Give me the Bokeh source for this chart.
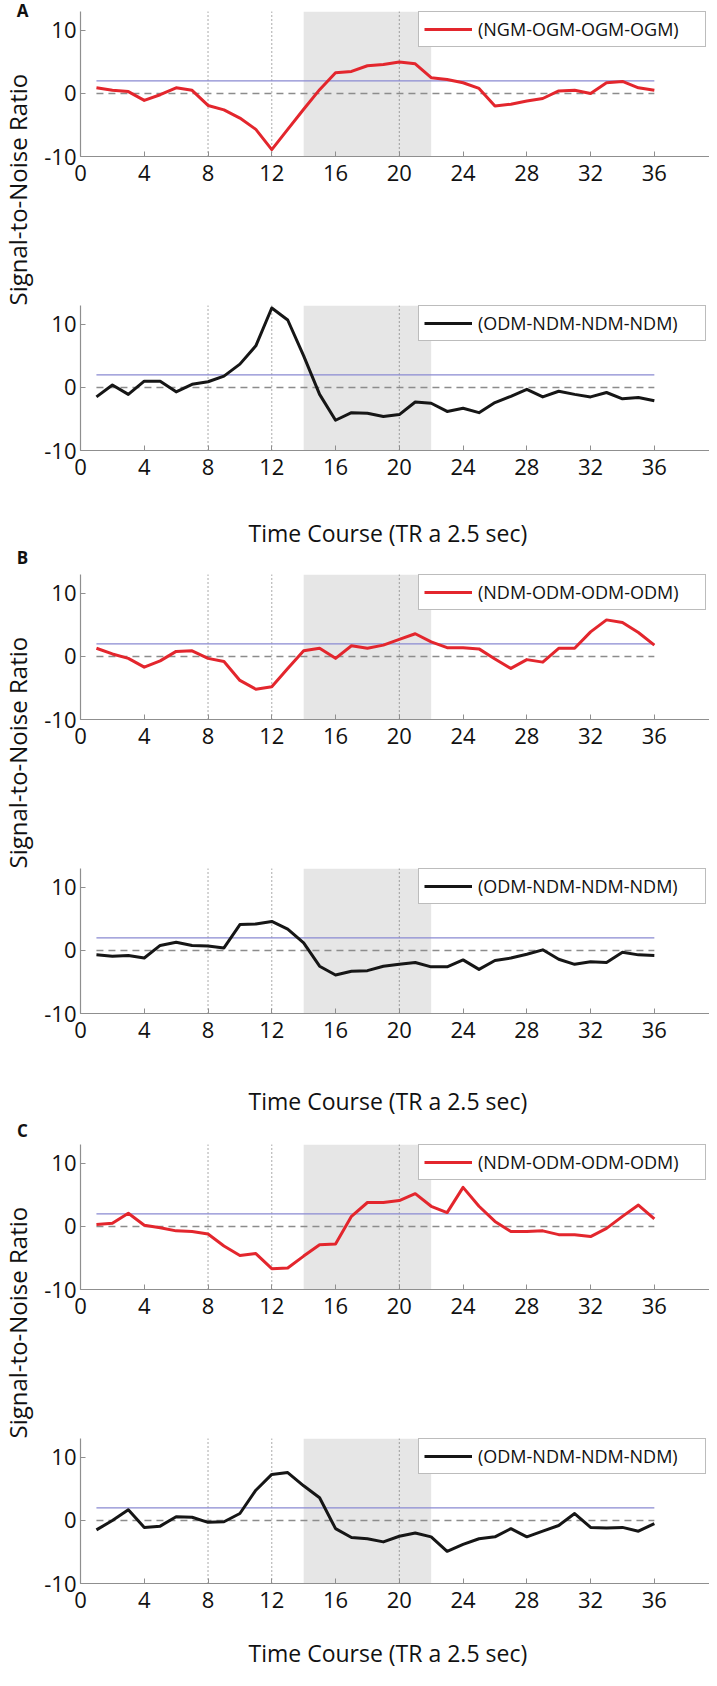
import math
from bokeh.plotting import figure
from bokeh.models import (Range1d, FixedTicker, BoxAnnotation, Span, Label,
                          Legend, LegendItem)
from bokeh.layouts import column, row
from bokeh.embed import file_html
from bokeh.resources import INLINE

# ---------------- data ----------------
time_points = list(range(1, 37))
x_ticks = [0, 4, 8, 12, 16, 20, 24, 28, 32, 36]
y_ticks = [-10, 0, 10]
y_tick_text = {-10: "-10", 0: "0", 10: "10"}
event_markers = [8, 12, 20]
stim_window = [14, 22]
threshold = 2
baseline = 0

a_top = [0.9, 0.5, 0.3, -1.1, -0.2, 0.9, 0.5, -1.9, -2.6, -3.9, -5.7, -8.9,
         -5.7, -2.5, 0.6, 3.3, 3.5, 4.4, 4.6, 5.0, 4.7, 2.5, 2.2, 1.7,
         0.8, -2.0, -1.7, -1.2, -0.8, 0.4, 0.5, 0.0, 1.7, 1.9, 0.9, 0.5]
a_bottom = [-1.5, 0.4, -1.1, 1.0, 1.0, -0.7, 0.5, 0.9, 1.8, 3.7, 6.6, 12.6,
            10.7, 5.0, -1.1, -5.2, -4.0, -4.1, -4.6, -4.3, -2.3, -2.5, -3.8, -3.3,
            -4.0, -2.4, -1.4, -0.3, -1.5, -0.6, -1.1, -1.5, -0.8, -1.8, -1.6, -2.1]
b_top = [1.3, 0.4, -0.3, -1.7, -0.7, 0.8, 0.9, -0.3, -0.8, -3.8, -5.2, -4.8,
         -1.9, 0.9, 1.3, -0.3, 1.7, 1.3, 1.8, 2.7, 3.6, 2.3, 1.4, 1.4,
         1.2, -0.4, -1.9, -0.5, -0.9, 1.3, 1.3, 3.9, 5.8, 5.4, 3.8, 1.8]
b_bottom = [-0.7, -0.9, -0.8, -1.2, 0.8, 1.3, 0.8, 0.7, 0.4, 4.1, 4.2, 4.6,
            3.4, 1.2, -2.5, -3.9, -3.3, -3.2, -2.5, -2.2, -1.9, -2.6, -2.6, -1.5,
            -3.0, -1.6, -1.2, -0.6, 0.1, -1.4, -2.2, -1.8, -1.9, -0.3, -0.7, -0.8]
c_top = [0.3, 0.5, 2.1, 0.2, -0.2, -0.7, -0.8, -1.2, -3.1, -4.6, -4.3, -6.7,
         -6.6, -4.7, -2.9, -2.8, 1.6, 3.8, 3.8, 4.1, 5.2, 3.2, 2.2, 6.2,
         3.2, 0.8, -0.8, -0.8, -0.7, -1.3, -1.3, -1.6, -0.3, 1.6, 3.4, 1.2]
c_bottom = [-1.5, 0.0, 1.7, -1.1, -0.9, 0.6, 0.5, -0.3, -0.2, 1.1, 4.8, 7.3,
            7.6, 5.5, 3.6, -1.3, -2.7, -2.9, -3.4, -2.5, -2.0, -2.6, -4.9, -3.8,
            -2.9, -2.6, -1.3, -2.6, -1.7, -0.8, 1.1, -1.1, -1.2, -1.1, -1.7, -0.5]

series_names = ["(NGM-OGM-OGM-OGM)", "(ODM-NDM-NDM-NDM)",
                "(NDM-ODM-ODM-ODM)", "(ODM-NDM-NDM-NDM)",
                "(NDM-ODM-ODM-ODM)", "(ODM-NDM-NDM-NDM)"]
panel_letters = ["A", "B", "C"]
y_title = "Signal-to-Noise Ratio"
x_title = "Time Course (TR a 2.5 sec)"

# ---------------- style ----------------
FONT = "Open Sans"
RED = "#e3262d"
BLACK = "#161616"
AXIS_GRAY = "#8f8f8f"
TEXT = "#111111"
FRAME_H = 145
LEFT_W = 34
PANEL_W = 675
BORDER_L = 46
TOTAL_H = 1670


def make_panel(values, color, legend_text, height, border_top):
    p = figure(width=PANEL_W, height=height,
               x_range=Range1d(0, 39.46), y_range=Range1d(-10, 13),
               output_backend="svg", toolbar_location=None,
               min_border_left=BORDER_L, min_border_right=0,
               min_border_top=border_top,
               min_border_bottom=height - border_top - FRAME_H)
    p.outline_line_color = None
    p.grid.visible = False
    p.background_fill_color = "white"
    p.border_fill_color = "white"

    for ax in (p.xaxis[0], p.yaxis[0]):
        ax.axis_line_color = AXIS_GRAY
        ax.axis_line_width = 1.2
        ax.major_tick_line_color = AXIS_GRAY
        ax.major_tick_in = 5
        ax.major_tick_out = 0
        ax.minor_tick_line_color = None
        ax.major_label_text_font = FONT
        ax.major_label_text_font_size = "22px"
        ax.major_label_text_color = TEXT
    p.xaxis.ticker = FixedTicker(ticks=x_ticks)
    p.yaxis.ticker = FixedTicker(ticks=y_ticks)
    p.yaxis.major_label_overrides = y_tick_text
    p.xaxis.major_label_standoff = 8
    p.yaxis.major_label_standoff = 4

    p.add_layout(BoxAnnotation(left=stim_window[0], right=stim_window[1],
                               fill_color="#e6e6e6", fill_alpha=1.0,
                               line_color=None, level="underlay"))
    for m in event_markers:
        p.add_layout(Span(location=m, dimension="height", line_color="#555555",
                          line_dash="1 3", line_width=1, level="underlay"))

    p.line([time_points[0], time_points[-1]], [threshold, threshold],
           color="#8a8ad2", line_width=1.3)
    p.line([time_points[0], time_points[-1]], [baseline, baseline],
           color="#8c8c8c", line_dash="7 5", line_width=1.6)
    r = p.line(time_points, values, color=color, line_width=3,
               line_join="round")

    p.add_layout(Legend(items=[LegendItem(label=legend_text, renderers=[r])],
                        location=(338, 109), margin=0, padding=5,
                        glyph_width=48, glyph_height=20, label_standoff=6,
                        label_width=222, label_height=20,
                        label_text_font=FONT, label_text_font_size="18px",
                        label_text_color=TEXT,
                        border_line_color="#7a7a7a", border_line_width=1,
                        background_fill_color="white",
                        background_fill_alpha=1.0))
    return p


def blank(width, height):
    p = figure(width=width, height=height, x_range=Range1d(0, width),
               y_range=Range1d(0, height), output_backend="svg",
               toolbar_location=None, x_axis_type=None, y_axis_type=None,
               min_border=0, min_border_left=0, min_border_right=0,
               min_border_top=0, min_border_bottom=0)
    p.outline_line_color = None
    p.grid.visible = False
    p.background_fill_color = "white"
    p.border_fill_color = "white"
    return p


def title_strip(height, y_from_bottom):
    p = blank(PANEL_W, height)
    p.add_layout(Label(x=168, y=y_from_bottom, x_units="screen",
                       y_units="screen", text=x_title, text_font=FONT,
                       text_font_size="23px", text_align="left",
                       text_baseline="middle", text_color=TEXT))
    return p


# left strip with panel letters and the y-axis titles
left = blank(LEFT_W, TOTAL_H)
for letter, ly in zip(panel_letters, [1660, 1113, 540]):
    left.add_layout(Label(x=22, y=ly, x_units="screen", y_units="screen",
                          text=letter, text_font=FONT, text_font_style="bold",
                          text_font_size="17px", text_align="center",
                          text_baseline="middle", text_color=TEXT))
for ty in [1365, 802, 232]:
    left.add_layout(Label(x=17, y=ty, x_units="screen", y_units="screen",
                          text=y_title, angle=math.pi / 2, text_font=FONT,
                          text_font_size="24px", text_align="left",
                          text_baseline="middle", text_color=TEXT))

a1 = make_panel(a_top, RED, series_names[0], 303, 11)
a2 = make_panel(a_bottom, BLACK, series_names[1], 189, 2)
ta = title_strip(55, 15)
b1 = make_panel(b_top, RED, series_names[2], 311, 27)
b2 = make_panel(b_bottom, BLACK, series_names[3], 194, 10)
tb = title_strip(65, 17)
c1 = make_panel(c_top, RED, series_names[4], 315, 27)
c2 = make_panel(c_bottom, BLACK, series_names[5], 185, 6)
tc = title_strip(53, 18)

panels = column(a1, a2, ta, b1, b2, tb, c1, c2, tc, spacing=0)
layout = row(left, panels, spacing=0)
open("out.html", "w").write(file_html(layout, INLINE))
